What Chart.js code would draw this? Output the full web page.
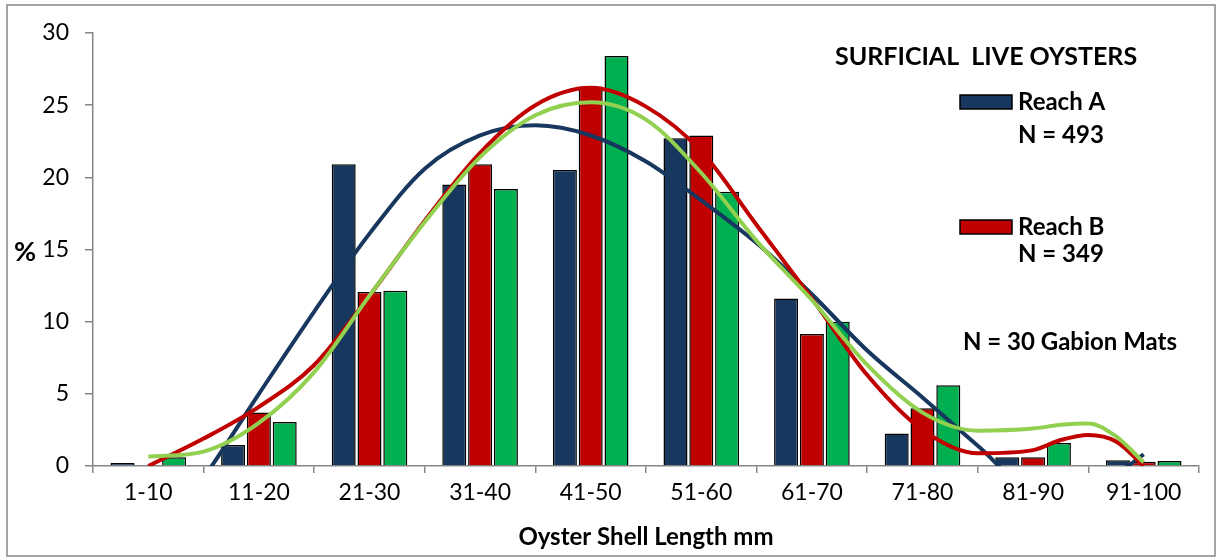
<!DOCTYPE html>
<html>
<head>
<meta charset="utf-8">
<title>Surficial live oysters</title>
<script src="https://cdn.jsdelivr.net/npm/chart.js@4.4.1/dist/chart.umd.min.js"></script>
<style>
  html, body { margin: 0; padding: 0; background: #fff; }
  #wrap { position: relative; width: 1219px; height: 557px; }
  #wrap canvas { position: absolute; left: 0; top: 0; display: block; }
</style>
</head>
<body>
<div id="wrap">
  <canvas id="bars" width="1219" height="557"></canvas>
  <canvas id="trends" width="1219" height="557"></canvas>
</div>
<script>
// Size classes (mm)
const categories = ['1-10', '11-20', '21-30', '31-40', '41-50', '51-60', '61-70', '71-80', '81-90', '91-100'];

// Percent of oysters per class
const reachA = [0.2, 1.45, 20.9, 19.5, 20.5, 22.7, 11.6, 2.25, 0.6, 0.4];
const reachB = [0, 3.7, 12.05, 20.9, 26.3, 22.9, 9.15, 4.0, 0.6, 0.3];
const gabion = [0.6, 3.05, 12.15, 19.2, 28.4, 19.0, 10.0, 5.6, 1.6, 0.35];

// Trend curves at class positions (1 = first class)
const trendX = [1, 1.5, 2, 2.5, 3, 3.5, 4, 4.5, 5, 5.5, 6, 6.5, 7, 7.5, 8, 8.5, 9, 9.25, 9.5, 9.75, 10];
const trendA = [-5.5, -0.8, 5.0, 10.7, 16.1, 20.6, 22.9, 23.6, 22.9, 21.1, 18.4, 15.45, 11.9, 8.0, 4.75, 1.4, -1.8, -2.0, -1.9, -0.6, 0.8];
const trendB = [0.0, 1.9, 4.1, 7.0, 11.8, 17.0, 21.7, 25.0, 26.2, 24.9, 21.8, 16.7, 11.6, 6.3, 2.5, 0.88, 1.1, 1.8, 2.15, 1.7, 0.0];
const trendG = [0.65, 1.0, 2.98, 6.5, 11.8, 16.9, 21.4, 24.3, 25.2, 24.0, 20.3, 15.6, 11.5, 7.0, 3.7, 2.45, 2.6, 2.85, 2.95, 2.05, 0.25];

// Y axis ticks
const yMin = 0;
const yMax = 30;
const yStep = 5;

// Text
const chartTitle = 'SURFICIAL  LIVE OYSTERS';
const legendA = ['Reach A', 'N = 493'];
const legendB = ['Reach B', 'N = 349'];
const note = 'N = 30 Gabion Mats';
const yTitle = '%';
const xTitle = 'Oyster Shell Length mm';

const FONT = 'Lato, "Noto Sans", sans-serif';
const BLUE = '#17375E';
const RED = '#C00000';
const GREEN = '#00B050';
const LIGHT_GREEN = '#92D050';
const AXIS_GREY = '#868686';

// plot box shared by both charts
const PAD = { left: 93, top: 33, right: 20, bottom: 91 };

function toPoints(xs, ys) {
  return xs.map((x, i) => ({ x: x, y: ys[i] }));
}

// Title, legend and notes drawn onto the canvas
const annotations = {
  id: 'annotations',
  afterDraw(chart) {
    const ctx = chart.ctx;
    ctx.save();

    // outer frame
    ctx.strokeStyle = AXIS_GREY;
    ctx.lineWidth = 1.5;
    ctx.strokeRect(7, 5, 1208, 551);

    ctx.fillStyle = '#000';
    ctx.textAlign = 'left';
    ctx.textBaseline = 'middle';

    ctx.font = 'bold 25px ' + FONT;
    ctx.fillText(chartTitle, 835, 57);

    // legend boxes
    ctx.lineWidth = 1.5;
    ctx.strokeStyle = '#000';
    ctx.fillStyle = BLUE;
    ctx.fillRect(960, 95, 52, 14);
    ctx.strokeRect(960, 95, 52, 14);
    ctx.fillStyle = RED;
    ctx.fillRect(960, 220, 52, 14);
    ctx.strokeRect(960, 220, 52, 14);

    ctx.fillStyle = '#000';
    ctx.font = 'bold 24px ' + FONT;
    ctx.fillText(legendA[0], 1018, 102);
    ctx.fillText(legendA[1], 1018, 135);
    ctx.fillText(legendB[0], 1018, 227);
    ctx.fillText(legendB[1], 1018, 254);
    ctx.fillText(note, 963, 342);

    ctx.font = 'bold 27px ' + FONT;
    ctx.fillText(yTitle, 14, 252);

    ctx.restore();
  }
};

const barStyle = { borderColor: '#000', borderWidth: 1.5, categoryPercentage: 0.7, barPercentage: 0.93 };
const lineStyle = { pointRadius: 0, borderWidth: 4, fill: false, cubicInterpolationMode: 'monotone' };

// Bars and axes
new Chart(document.getElementById('bars'), {
  type: 'bar',
  data: {
    labels: categories,
    datasets: [
      Object.assign({ label: 'Reach A', data: reachA, backgroundColor: BLUE }, barStyle),
      Object.assign({ label: 'Reach B', data: reachB, backgroundColor: RED }, barStyle),
      Object.assign({ label: 'Gabion', data: gabion, backgroundColor: GREEN }, barStyle)
    ]
  },
  options: {
    responsive: false,
    animation: false,
    devicePixelRatio: 1,
    layout: { padding: { top: PAD.top, right: PAD.right, left: 0, bottom: 0 } },
    plugins: {
      legend: { display: false },
      tooltip: { enabled: false }
    },
    scales: {
      x: {
        offset: true,
        grid: { display: true, offset: true, drawOnChartArea: false, tickLength: 7, color: AXIS_GREY, lineWidth: 1.5 },
        border: { display: true, color: AXIS_GREY, width: 1.5 },
        ticks: { color: '#000', font: { family: FONT, size: 23 }, padding: 6, maxRotation: 0 },
        title: { display: true, text: xTitle, color: '#000', font: { family: FONT, size: 24, weight: 'bold' }, padding: { top: 0, bottom: 5 } },
        afterFit(scale) { scale.height = PAD.bottom; }
      },
      y: {
        min: yMin,
        max: yMax,
        grid: { display: true, drawOnChartArea: false, tickLength: 8, color: AXIS_GREY, lineWidth: 1.5 },
        border: { display: true, color: AXIS_GREY, width: 1.5 },
        ticks: { stepSize: yStep, color: '#000', font: { family: FONT, size: 23 }, padding: 16 },
        afterFit(scale) { scale.width = PAD.left; }
      }
    }
  },
  plugins: [annotations]
});

// Trend curves on top, same plot box
new Chart(document.getElementById('trends'), {
  type: 'line',
  data: {
    datasets: [
      Object.assign({ label: 'Trend A', data: toPoints(trendX, trendA), borderColor: BLUE, order: 3 }, lineStyle),
      Object.assign({ label: 'Trend B', data: toPoints(trendX, trendB), borderColor: RED, order: 2 }, lineStyle),
      Object.assign({ label: 'Trend G', data: toPoints(trendX, trendG), borderColor: LIGHT_GREEN, order: 1 }, lineStyle)
    ]
  },
  options: {
    responsive: false,
    animation: false,
    devicePixelRatio: 1,
    layout: { padding: PAD },
    plugins: {
      legend: { display: false },
      tooltip: { enabled: false }
    },
    scales: {
      x: { type: 'linear', display: false, offset: false, min: 0.5, max: 10.5 },
      y: { display: false, min: yMin, max: yMax }
    }
  }
});
</script>
</body>
</html>
